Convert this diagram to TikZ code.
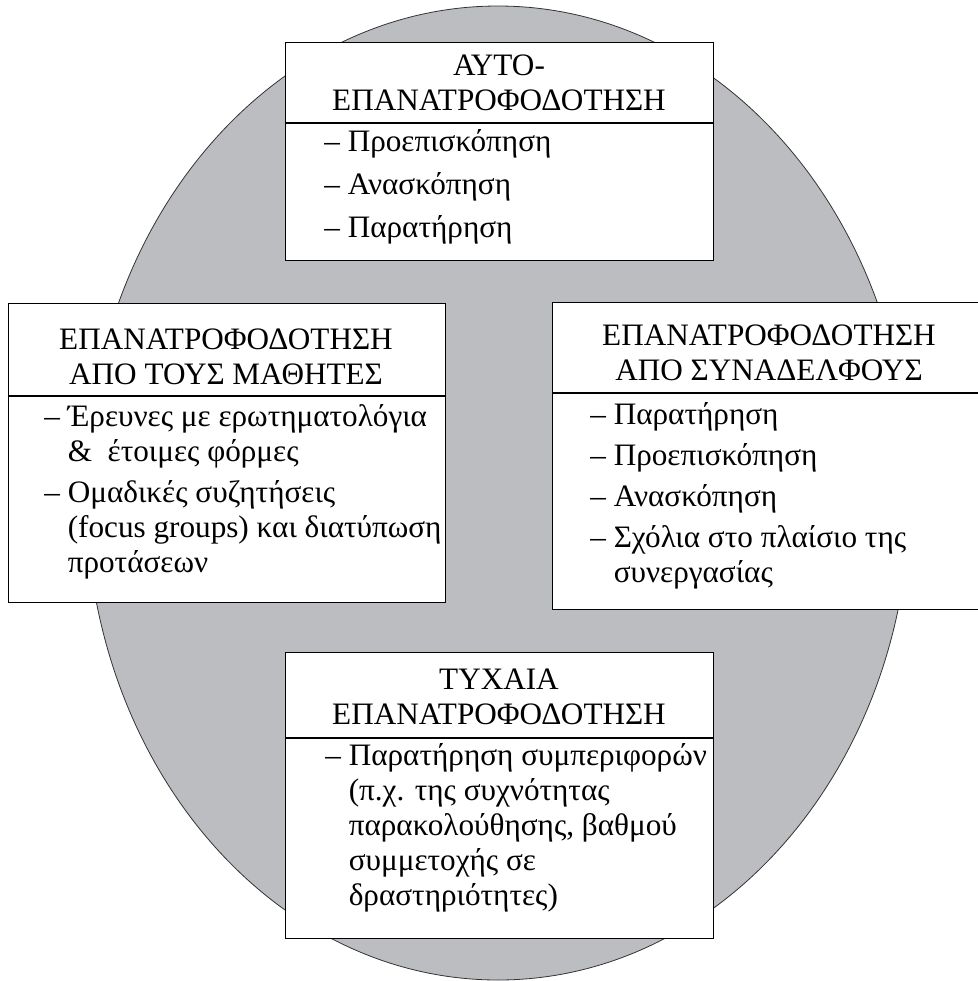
\documentclass[tikz,border=0pt]{standalone}
\usepackage{fontspec}
\setmainfont{Liberation Serif}
\usetikzlibrary{positioning}
\definecolor{ovalgray}{RGB}{188,189,192}
\newcommand{\bul}{–\ }
\newcommand{\ind}{\phantom{–\ }}

\begin{document}
\begin{tikzpicture}[x=0.5pt, y=-0.5pt,
  every node/.style={font=\fontsize{15.6}{17.5}\selectfont, inner sep=0pt},
  box/.style={draw, line width=0.7pt, fill=white, anchor=north west},
  head/.style={align=center},
  list/.style={align=left, anchor=base west}]
\useasboundingbox (0,0) rectangle (978,981);
\fill[ovalgray, draw=black!80, line width=0.4pt] (498,493) ellipse [x radius=206pt, y radius=243.5pt];

\node[box, minimum width=214pt, minimum height=109pt] (self) at (285,42) {};
\node[box, minimum width=218.75pt, minimum height=149.5pt] (pupils) at (7.5,303) {};
\node[box, minimum width=217pt, minimum height=153.5pt] (peers) at (552,302) {};
\node[box, minimum width=214pt, minimum height=143pt] (casual) at (285,652) {};

\coordinate (selfcut) at (0,123);
\coordinate (pupilscut) at (0,396);
\coordinate (peerscut) at (0,393);
\coordinate (casualcut) at (0,738);
\draw[line width=0.7pt] (self.west |- selfcut) -- (self.east |- selfcut);
\draw[line width=0.7pt] (pupils.west |- pupilscut) -- (pupils.east |- pupilscut);
\draw[line width=0.7pt] (peers.west |- peerscut) -- (peers.east |- peerscut);
\draw[line width=0.7pt] (casual.west |- casualcut) -- (casual.east |- casualcut);

\node[head] (selfhead) at (499,82.5) {ΑΥΤΟ-\\ΕΠΑΝΑΤΡΟΦΟΔΟΤΗΣΗ};
\node[head] (pupilshead) at (226,356.5) {ΕΠΑΝΑΤΡΟΦΟΔΟΤΗΣΗ\\ΑΠΟ ΤΟΥΣ ΜΑΘΗΤΕΣ};
\node[head] (peershead) at (769,353) {ΕΠΑΝΑΤΡΟΦΟΔΟΤΗΣΗ\\ΑΠΟ ΣΥΝΑΔΕΛΦΟΥΣ};
\node[head] (casualhead) at (499,696.5) {ΤΥΧΑΙΑ\\ΕΠΑΝΑΤΡΟΦΟΔΟΤΗΣΗ};

\node[list] (selflist) at (324,237) {\bul Προεπισκόπηση\\[4pt]\bul Ανασκόπηση\\[4pt]\bul Παρατήρηση};
\node[list] (pupilslist) at (44,572) {\bul Έρευνες με ερωτηματολόγια\\\ind \&\ \ έτοιμες φόρμες\\[3pt]\bul Ομαδικές συζητήσεις\\\ind (focus groups) και διατύπωση\\\ind προτάσεων};
\node[list] (peerslist) at (590,582) {\bul Παρατήρηση\\[3pt]\bul Προεπισκόπηση\\[3pt]\bul Ανασκόπηση\\[3pt]\bul Σχόλια στο πλαίσιο της\\\ind συνεργασίας};
\node[list] (casuallist) at (325,905) {\bul Παρατήρηση συμπεριφορών\\\ind (π.χ. της συχνότητας\\\ind παρακολούθησης, βαθμού\\\ind συμμετοχής σε\\\ind δραστηριότητες)};
\end{tikzpicture}
\end{document}
